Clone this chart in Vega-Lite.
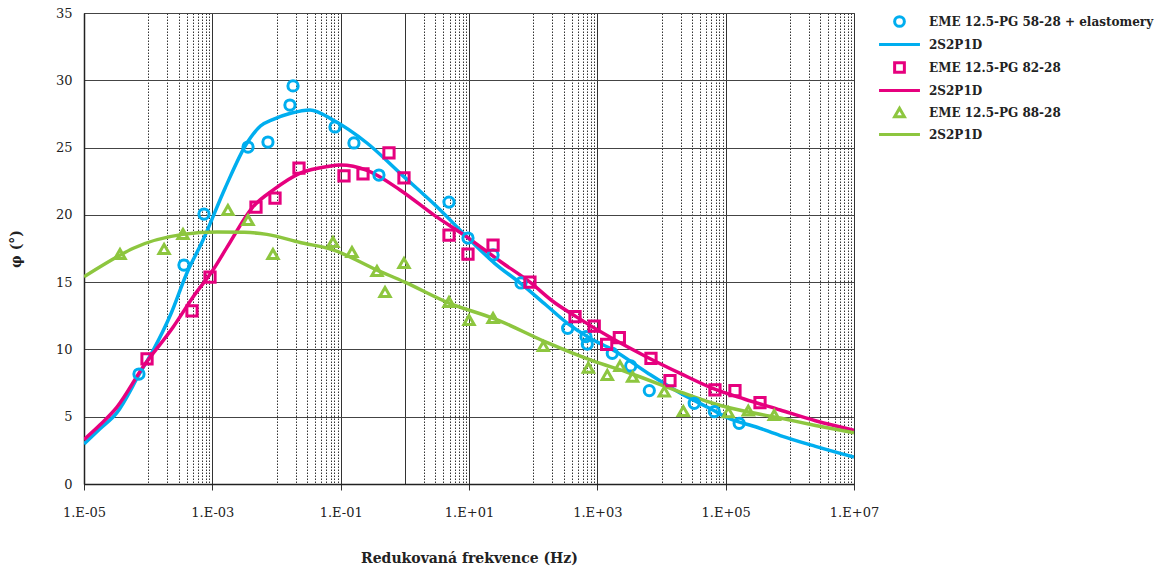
{
  "$schema": "https://vega.github.io/schema/vega-lite/v6.json",
  "width": 770,
  "height": 471,
  "autosize": {"type": "none"},
  "padding": {"left": 84, "top": 13, "right": 315, "bottom": 87},
  "background": "white",
  "config": {
    "view": {"stroke": "#333", "strokeWidth": 1},
    "font": "DejaVu Serif"
  },
  "datasets": {
    "pts": [
      {"s": "EME 12.5-PG 58-28 + elastomery", "f": 7.19e-5, "phi": 8.17},
      {"s": "EME 12.5-PG 58-28 + elastomery", "f": 3.61e-4, "phi": 16.27},
      {"s": "EME 12.5-PG 58-28 + elastomery", "f": 7.41e-4, "phi": 20.06},
      {"s": "EME 12.5-PG 58-28 + elastomery", "f": 3.6e-3, "phi": 25.04},
      {"s": "EME 12.5-PG 58-28 + elastomery", "f": 7.36e-3, "phi": 25.41},
      {"s": "EME 12.5-PG 58-28 + elastomery", "f": 0.0162, "phi": 28.16},
      {"s": "EME 12.5-PG 58-28 + elastomery", "f": 0.0181, "phi": 29.58},
      {"s": "EME 12.5-PG 58-28 + elastomery", "f": 0.0815, "phi": 26.53},
      {"s": "EME 12.5-PG 58-28 + elastomery", "f": 0.161, "phi": 25.34},
      {"s": "EME 12.5-PG 58-28 + elastomery", "f": 0.395, "phi": 22.96},
      {"s": "EME 12.5-PG 58-28 + elastomery", "f": 4.88, "phi": 20.95},
      {"s": "EME 12.5-PG 58-28 + elastomery", "f": 9.64, "phi": 18.28},
      {"s": "EME 12.5-PG 58-28 + elastomery", "f": 23.7, "phi": 17.02},
      {"s": "EME 12.5-PG 58-28 + elastomery", "f": 64.6, "phi": 14.94},
      {"s": "EME 12.5-PG 58-28 + elastomery", "f": 345, "phi": 11.57},
      {"s": "EME 12.5-PG 58-28 + elastomery", "f": 665, "phi": 10.95},
      {"s": "EME 12.5-PG 58-28 + elastomery", "f": 697, "phi": 10.4},
      {"s": "EME 12.5-PG 58-28 + elastomery", "f": 1710, "phi": 9.71},
      {"s": "EME 12.5-PG 58-28 + elastomery", "f": 3311, "phi": 8.77},
      {"s": "EME 12.5-PG 58-28 + elastomery", "f": 6457, "phi": 6.94},
      {"s": "EME 12.5-PG 58-28 + elastomery", "f": 32360, "phi": 6.0},
      {"s": "EME 12.5-PG 58-28 + elastomery", "f": 66530, "phi": 5.38},
      {"s": "EME 12.5-PG 58-28 + elastomery", "f": 162200, "phi": 4.51},
      {"s": "EME 12.5-PG 82-28", "f": 9.6e-5, "phi": 9.29},
      {"s": "EME 12.5-PG 82-28", "f": 4.82e-4, "phi": 12.86},
      {"s": "EME 12.5-PG 82-28", "f": 9.2e-4, "phi": 15.38},
      {"s": "EME 12.5-PG 82-28", "f": 4.79e-3, "phi": 20.58},
      {"s": "EME 12.5-PG 82-28", "f": 9.48e-3, "phi": 21.25},
      {"s": "EME 12.5-PG 82-28", "f": 0.0224, "phi": 23.48},
      {"s": "EME 12.5-PG 82-28", "f": 0.1127, "phi": 22.89},
      {"s": "EME 12.5-PG 82-28", "f": 0.2228, "phi": 23.04},
      {"s": "EME 12.5-PG 82-28", "f": 0.566, "phi": 24.6},
      {"s": "EME 12.5-PG 82-28", "f": 0.97, "phi": 22.74},
      {"s": "EME 12.5-PG 82-28", "f": 4.88, "phi": 18.5},
      {"s": "EME 12.5-PG 82-28", "f": 9.64, "phi": 17.09},
      {"s": "EME 12.5-PG 82-28", "f": 23.7, "phi": 17.76},
      {"s": "EME 12.5-PG 82-28", "f": 89.1, "phi": 15.0},
      {"s": "EME 12.5-PG 82-28", "f": 449, "phi": 12.43},
      {"s": "EME 12.5-PG 82-28", "f": 895, "phi": 11.74},
      {"s": "EME 12.5-PG 82-28", "f": 1396, "phi": 10.38},
      {"s": "EME 12.5-PG 82-28", "f": 2203, "phi": 10.87},
      {"s": "EME 12.5-PG 82-28", "f": 6855, "phi": 9.34},
      {"s": "EME 12.5-PG 82-28", "f": 13550, "phi": 7.68},
      {"s": "EME 12.5-PG 82-28", "f": 68080, "phi": 6.99},
      {"s": "EME 12.5-PG 82-28", "f": 139600, "phi": 6.94},
      {"s": "EME 12.5-PG 82-28", "f": 342800, "phi": 6.04},
      {"s": "EME 12.5-PG 88-28", "f": 3.64e-5, "phi": 17.09},
      {"s": "EME 12.5-PG 88-28", "f": 1.77e-4, "phi": 17.46},
      {"s": "EME 12.5-PG 88-28", "f": 3.49e-4, "phi": 18.58},
      {"s": "EME 12.5-PG 88-28", "f": 1.75e-3, "phi": 20.36},
      {"s": "EME 12.5-PG 88-28", "f": 3.6e-3, "phi": 19.62},
      {"s": "EME 12.5-PG 88-28", "f": 8.81e-3, "phi": 17.09},
      {"s": "EME 12.5-PG 88-28", "f": 0.0759, "phi": 17.98},
      {"s": "EME 12.5-PG 88-28", "f": 0.15, "phi": 17.24},
      {"s": "EME 12.5-PG 88-28", "f": 0.368, "phi": 15.83},
      {"s": "EME 12.5-PG 88-28", "f": 0.491, "phi": 14.27},
      {"s": "EME 12.5-PG 88-28", "f": 0.97, "phi": 16.42},
      {"s": "EME 12.5-PG 88-28", "f": 4.88, "phi": 13.52},
      {"s": "EME 12.5-PG 88-28", "f": 10, "phi": 12.19},
      {"s": "EME 12.5-PG 88-28", "f": 23.7, "phi": 12.34},
      {"s": "EME 12.5-PG 88-28", "f": 144, "phi": 10.25},
      {"s": "EME 12.5-PG 88-28", "f": 724, "phi": 8.64},
      {"s": "EME 12.5-PG 88-28", "f": 1429, "phi": 8.1},
      {"s": "EME 12.5-PG 88-28", "f": 2254, "phi": 8.77},
      {"s": "EME 12.5-PG 88-28", "f": 3548, "phi": 7.97},
      {"s": "EME 12.5-PG 88-28", "f": 11040, "phi": 6.86},
      {"s": "EME 12.5-PG 88-28", "f": 21880, "phi": 5.42},
      {"s": "EME 12.5-PG 88-28", "f": 109600, "phi": 5.33},
      {"s": "EME 12.5-PG 88-28", "f": 224900, "phi": 5.45},
      {"s": "EME 12.5-PG 88-28", "f": 571500, "phi": 5.13}
    ],
    "fit": [
      {"s": "2S2P1D · 58-28", "f": 1e-5, "phi": 2.97},
      {"s": "2S2P1D · 58-28", "f": 1.778e-5, "phi": 4.1},
      {"s": "2S2P1D · 58-28", "f": 3.236e-5, "phi": 5.28},
      {"s": "2S2P1D · 58-28", "f": 7.46e-5, "phi": 8.25},
      {"s": "2S2P1D · 58-28", "f": 1.202e-4, "phi": 9.96},
      {"s": "2S2P1D · 58-28", "f": 2.239e-4, "phi": 12.6},
      {"s": "2S2P1D · 58-28", "f": 4.027e-4, "phi": 15.7},
      {"s": "2S2P1D · 58-28", "f": 7.16e-4, "phi": 18.13},
      {"s": "2S2P1D · 58-28", "f": 1.585e-3, "phi": 22.0},
      {"s": "2S2P1D · 58-28", "f": 3.467e-3, "phi": 25.34},
      {"s": "2S2P1D · 58-28", "f": 5.623e-3, "phi": 26.6},
      {"s": "2S2P1D · 58-28", "f": 8.913e-3, "phi": 27.1},
      {"s": "2S2P1D · 58-28", "f": 0.0166, "phi": 27.55},
      {"s": "2S2P1D · 58-28", "f": 0.03327, "phi": 27.8},
      {"s": "2S2P1D · 58-28", "f": 0.07586, "phi": 27.05},
      {"s": "2S2P1D · 58-28", "f": 0.257, "phi": 25.34},
      {"s": "2S2P1D · 58-28", "f": 0.8414, "phi": 23.1},
      {"s": "2S2P1D · 58-28", "f": 3.162, "phi": 20.6},
      {"s": "2S2P1D · 58-28", "f": 9.333, "phi": 18.35},
      {"s": "2S2P1D · 58-28", "f": 25.12, "phi": 16.4},
      {"s": "2S2P1D · 58-28", "f": 62.37, "phi": 14.94},
      {"s": "2S2P1D · 58-28", "f": 158.5, "phi": 13.3},
      {"s": "2S2P1D · 58-28", "f": 338.8, "phi": 11.96},
      {"s": "2S2P1D · 58-28", "f": 794.3, "phi": 10.8},
      {"s": "2S2P1D · 58-28", "f": 1758, "phi": 9.96},
      {"s": "2S2P1D · 58-28", "f": 6310, "phi": 8.2},
      {"s": "2S2P1D · 58-28", "f": 19500, "phi": 6.76},
      {"s": "2S2P1D · 58-28", "f": 63100, "phi": 5.5},
      {"s": "2S2P1D · 58-28", "f": 100000, "phi": 4.98},
      {"s": "2S2P1D · 58-28", "f": 316200, "phi": 4.2},
      {"s": "2S2P1D · 58-28", "f": 707900, "phi": 3.6},
      {"s": "2S2P1D · 58-28", "f": 2512000, "phi": 2.8},
      {"s": "2S2P1D · 58-28", "f": 10000000, "phi": 2.0},
      {"s": "2S2P1D · 82-28", "f": 1e-5, "phi": 3.3},
      {"s": "2S2P1D · 82-28", "f": 1.778e-5, "phi": 4.4},
      {"s": "2S2P1D · 82-28", "f": 3.236e-5, "phi": 5.7},
      {"s": "2S2P1D · 82-28", "f": 8.318e-5, "phi": 8.7},
      {"s": "2S2P1D · 82-28", "f": 2.455e-4, "phi": 11.67},
      {"s": "2S2P1D · 82-28", "f": 5.012e-4, "phi": 13.9},
      {"s": "2S2P1D · 82-28", "f": 1.023e-3, "phi": 15.9},
      {"s": "2S2P1D · 82-28", "f": 1.698e-3, "phi": 17.6},
      {"s": "2S2P1D · 82-28", "f": 4.266e-3, "phi": 20.58},
      {"s": "2S2P1D · 82-28", "f": 8.913e-3, "phi": 21.85},
      {"s": "2S2P1D · 82-28", "f": 0.02344, "phi": 23.1},
      {"s": "2S2P1D · 82-28", "f": 0.0631, "phi": 23.6},
      {"s": "2S2P1D · 82-28", "f": 0.1, "phi": 23.7},
      {"s": "2S2P1D · 82-28", "f": 0.257, "phi": 23.3},
      {"s": "2S2P1D · 82-28", "f": 0.8414, "phi": 21.85},
      {"s": "2S2P1D · 82-28", "f": 2.818, "phi": 20.0},
      {"s": "2S2P1D · 82-28", "f": 9.333, "phi": 18.35},
      {"s": "2S2P1D · 82-28", "f": 31.62, "phi": 16.5},
      {"s": "2S2P1D · 82-28", "f": 89.13, "phi": 15.0},
      {"s": "2S2P1D · 82-28", "f": 199.5, "phi": 13.6},
      {"s": "2S2P1D · 82-28", "f": 478.6, "phi": 12.4},
      {"s": "2S2P1D · 82-28", "f": 1585, "phi": 10.9},
      {"s": "2S2P1D · 82-28", "f": 5888, "phi": 9.44},
      {"s": "2S2P1D · 82-28", "f": 19950, "phi": 8.2},
      {"s": "2S2P1D · 82-28", "f": 63100, "phi": 7.1},
      {"s": "2S2P1D · 82-28", "f": 199500, "phi": 6.3},
      {"s": "2S2P1D · 82-28", "f": 707900, "phi": 5.5},
      {"s": "2S2P1D · 82-28", "f": 2512000, "phi": 4.7},
      {"s": "2S2P1D · 82-28", "f": 10000000, "phi": 4.0},
      {"s": "2S2P1D · 88-28", "f": 1e-5, "phi": 15.4},
      {"s": "2S2P1D · 88-28", "f": 3.631e-5, "phi": 17.0},
      {"s": "2S2P1D · 88-28", "f": 5.754e-5, "phi": 17.5},
      {"s": "2S2P1D · 88-28", "f": 3.467e-4, "phi": 18.55},
      {"s": "2S2P1D · 88-28", "f": 1.175e-3, "phi": 18.73},
      {"s": "2S2P1D · 88-28", "f": 3.162e-3, "phi": 18.7},
      {"s": "2S2P1D · 88-28", "f": 7.079e-3, "phi": 18.55},
      {"s": "2S2P1D · 88-28", "f": 0.02344, "phi": 17.95},
      {"s": "2S2P1D · 88-28", "f": 0.07586, "phi": 17.4},
      {"s": "2S2P1D · 88-28", "f": 0.3681, "phi": 15.9},
      {"s": "2S2P1D · 88-28", "f": 1, "phi": 15.0},
      {"s": "2S2P1D · 88-28", "f": 4.571, "phi": 13.5},
      {"s": "2S2P1D · 88-28", "f": 27.54, "phi": 12.2},
      {"s": "2S2P1D · 88-28", "f": 166, "phi": 10.5},
      {"s": "2S2P1D · 88-28", "f": 794.3, "phi": 9.2},
      {"s": "2S2P1D · 88-28", "f": 3162, "phi": 8.25},
      {"s": "2S2P1D · 88-28", "f": 15850, "phi": 7.0},
      {"s": "2S2P1D · 88-28", "f": 63100, "phi": 6.0},
      {"s": "2S2P1D · 88-28", "f": 199500, "phi": 5.4},
      {"s": "2S2P1D · 88-28", "f": 707900, "phi": 4.9},
      {"s": "2S2P1D · 88-28", "f": 2512000, "phi": 4.35},
      {"s": "2S2P1D · 88-28", "f": 10000000, "phi": 3.8}
    ]
  },
  "layer": [
    {
      "data": {"name": "fit"},
      "mark": {"type": "line", "strokeWidth": 3.5, "interpolate": "monotone", "clip": true},
      "encoding": {
        "x": {
          "field": "f", "type": "quantitative",
          "scale": {"type": "log", "domain": [0.00001, 10000000], "nice": false},
          "title": "Redukovaná frekvence (Hz)",
          "axis": {
            "values": [0.00001, 0.0001, 0.0002, 0.0003, 0.0004, 0.0005, 0.0006, 0.0007, 0.0008, 0.0009, 0.001,
                       0.01, 0.02, 0.03, 0.04, 0.05, 0.06, 0.07, 0.08, 0.09, 0.1,
                       1, 2, 3, 4, 5, 6, 7, 8, 9, 10,
                       100, 200, 300, 400, 500, 600, 700, 800, 900, 1000,
                       10000, 20000, 30000, 40000, 50000, 60000, 70000, 80000, 90000, 100000,
                       1000000, 2000000, 3000000, 4000000, 5000000, 6000000, 7000000, 8000000, 9000000, 10000000],
            "grid": true,
            "gridColor": "#333",
            "gridWidth": 1,
            "gridDash": {"condition": {"test": "indexof([0.00001,0.001,0.1,1,10,1000,100000,10000000], datum.value) >= 0", "value": []}, "value": [1.5, 1.5]},
            "ticks": true,
            "tickSize": 6,
            "tickColor": {"condition": {"test": "indexof([0.00001,0.001,0.1,10,1000,100000,10000000], datum.value) >= 0", "value": "#333"}, "value": "transparent"},
            "labelExpr": "indexof([0.00001,0.001,0.1,10,1000,100000,10000000], datum.value) >= 0 ? '1.E' + (datum.value < 1 ? '-' : '+') + '0' + abs(round(log(datum.value)/LN10)) : ''",
            "labelOverlap": false,
            "labelFlush": false,
            "labelBound": false,
            "labelFont": "DejaVu Serif",
            "labelFontSize": 13,
            "labelColor": "#222",
            "labelPadding": 16,
            "domainColor": "#222",
            "domainWidth": 1.5,
            "titleFont": "DejaVu Serif",
            "titleFontSize": 14,
            "titleFontWeight": "bold",
            "titleColor": "#222",
            "titlePadding": 32
          }
        },
        "y": {
          "field": "phi", "type": "quantitative",
          "scale": {"domain": [0, 35], "nice": false},
          "title": "φ (°)",
          "axis": {
            "values": [0, 5, 10, 15, 20, 25, 30, 35],
            "grid": true,
            "gridColor": "#444",
            "gridWidth": 1.2,
            "ticks": false,
            "labelFont": "DejaVu Serif",
            "labelFontSize": 13,
            "labelColor": "#222",
            "labelPadding": 12,
            "labelFlush": false,
            "domainColor": "#222",
            "domainWidth": 1.5,
            "titleFont": "DejaVu Serif",
            "titleFontSize": 14,
            "titleFontWeight": "bold",
            "titleColor": "#222",
            "titlePadding": 32
          }
        },
        "color": {
          "field": "s", "type": "nominal",
          "scale": {
            "domain": ["EME 12.5-PG 58-28 + elastomery", "2S2P1D · 58-28", "EME 12.5-PG 82-28", "2S2P1D · 82-28", "EME 12.5-PG 88-28", "2S2P1D · 88-28"],
            "range": ["#00AEEF", "#00AEEF", "#E6007E", "#E6007E", "#8DC63F", "#8DC63F"]
          },
          "legend": {
            "title": null,
            "labelExpr": "indexof(datum.label, '2S2P1D') == 0 ? '2S2P1D' : datum.label",
            "labelFont": "DejaVu Serif",
            "labelFontWeight": "bold",
            "labelFontSize": 12,
            "labelColor": "#222",
            "labelLimit": 400,
            "symbolStrokeWidth": 3,
            "symbolSize": 95,
            "rowPadding": 5,
            "labelOffset": 23,
            "offset": 37,
            "padding": 2
          }
        }
      }
    },
    {
      "data": {"name": "pts"},
      "mark": {"type": "point", "filled": false, "strokeWidth": 3, "size": 105, "opacity": 1, "clip": true},
      "encoding": {
        "x": {"field": "f", "type": "quantitative", "title": "Redukovaná frekvence (Hz)"},
        "y": {"field": "phi", "type": "quantitative", "title": "φ (°)"},
        "color": {"field": "s", "type": "nominal"},
        "shape": {
          "field": "s", "type": "nominal",
          "scale": {
            "domain": ["EME 12.5-PG 58-28 + elastomery", "2S2P1D · 58-28", "EME 12.5-PG 82-28", "2S2P1D · 82-28", "EME 12.5-PG 88-28", "2S2P1D · 88-28"],
            "range": ["circle", "M-4.2,0H4.2", "square", "M-4.2,0H4.2", "triangle-up", "M-4.2,0H4.2"]
          }
        }
      }
    },
    {
      "mark": {"type": "text", "align": "left", "baseline": "middle", "font": "DejaVu Serif", "fontWeight": "bold", "fontSize": 15, "color": "#222"},
      "encoding": {
        "x": {"datum": 1.44, "type": "quantitative", "title": "Redukovaná frekvence (Hz)"},
        "y": {"datum": 32.9, "type": "quantitative", "title": "φ (°)"},
        "text": {"value": "t"}
      }
    },
    {
      "mark": {"type": "text", "align": "left", "baseline": "middle", "font": "DejaVu Serif", "fontWeight": "bold", "fontSize": 9, "dx": 6, "dy": 4, "color": "#222"},
      "encoding": {
        "x": {"datum": 1.44, "type": "quantitative", "title": "Redukovaná frekvence (Hz)"},
        "y": {"datum": 32.9, "type": "quantitative", "title": "φ (°)"},
        "text": {"value": "ref"}
      }
    },
    {
      "mark": {"type": "text", "align": "left", "baseline": "middle", "font": "DejaVu Serif", "fontWeight": "bold", "fontSize": 15, "dx": 22, "color": "#222"},
      "encoding": {
        "x": {"datum": 1.44, "type": "quantitative", "title": "Redukovaná frekvence (Hz)"},
        "y": {"datum": 32.9, "type": "quantitative", "title": "φ (°)"},
        "text": {"value": "= 21 °C"}
      }
    }
  ]
}
